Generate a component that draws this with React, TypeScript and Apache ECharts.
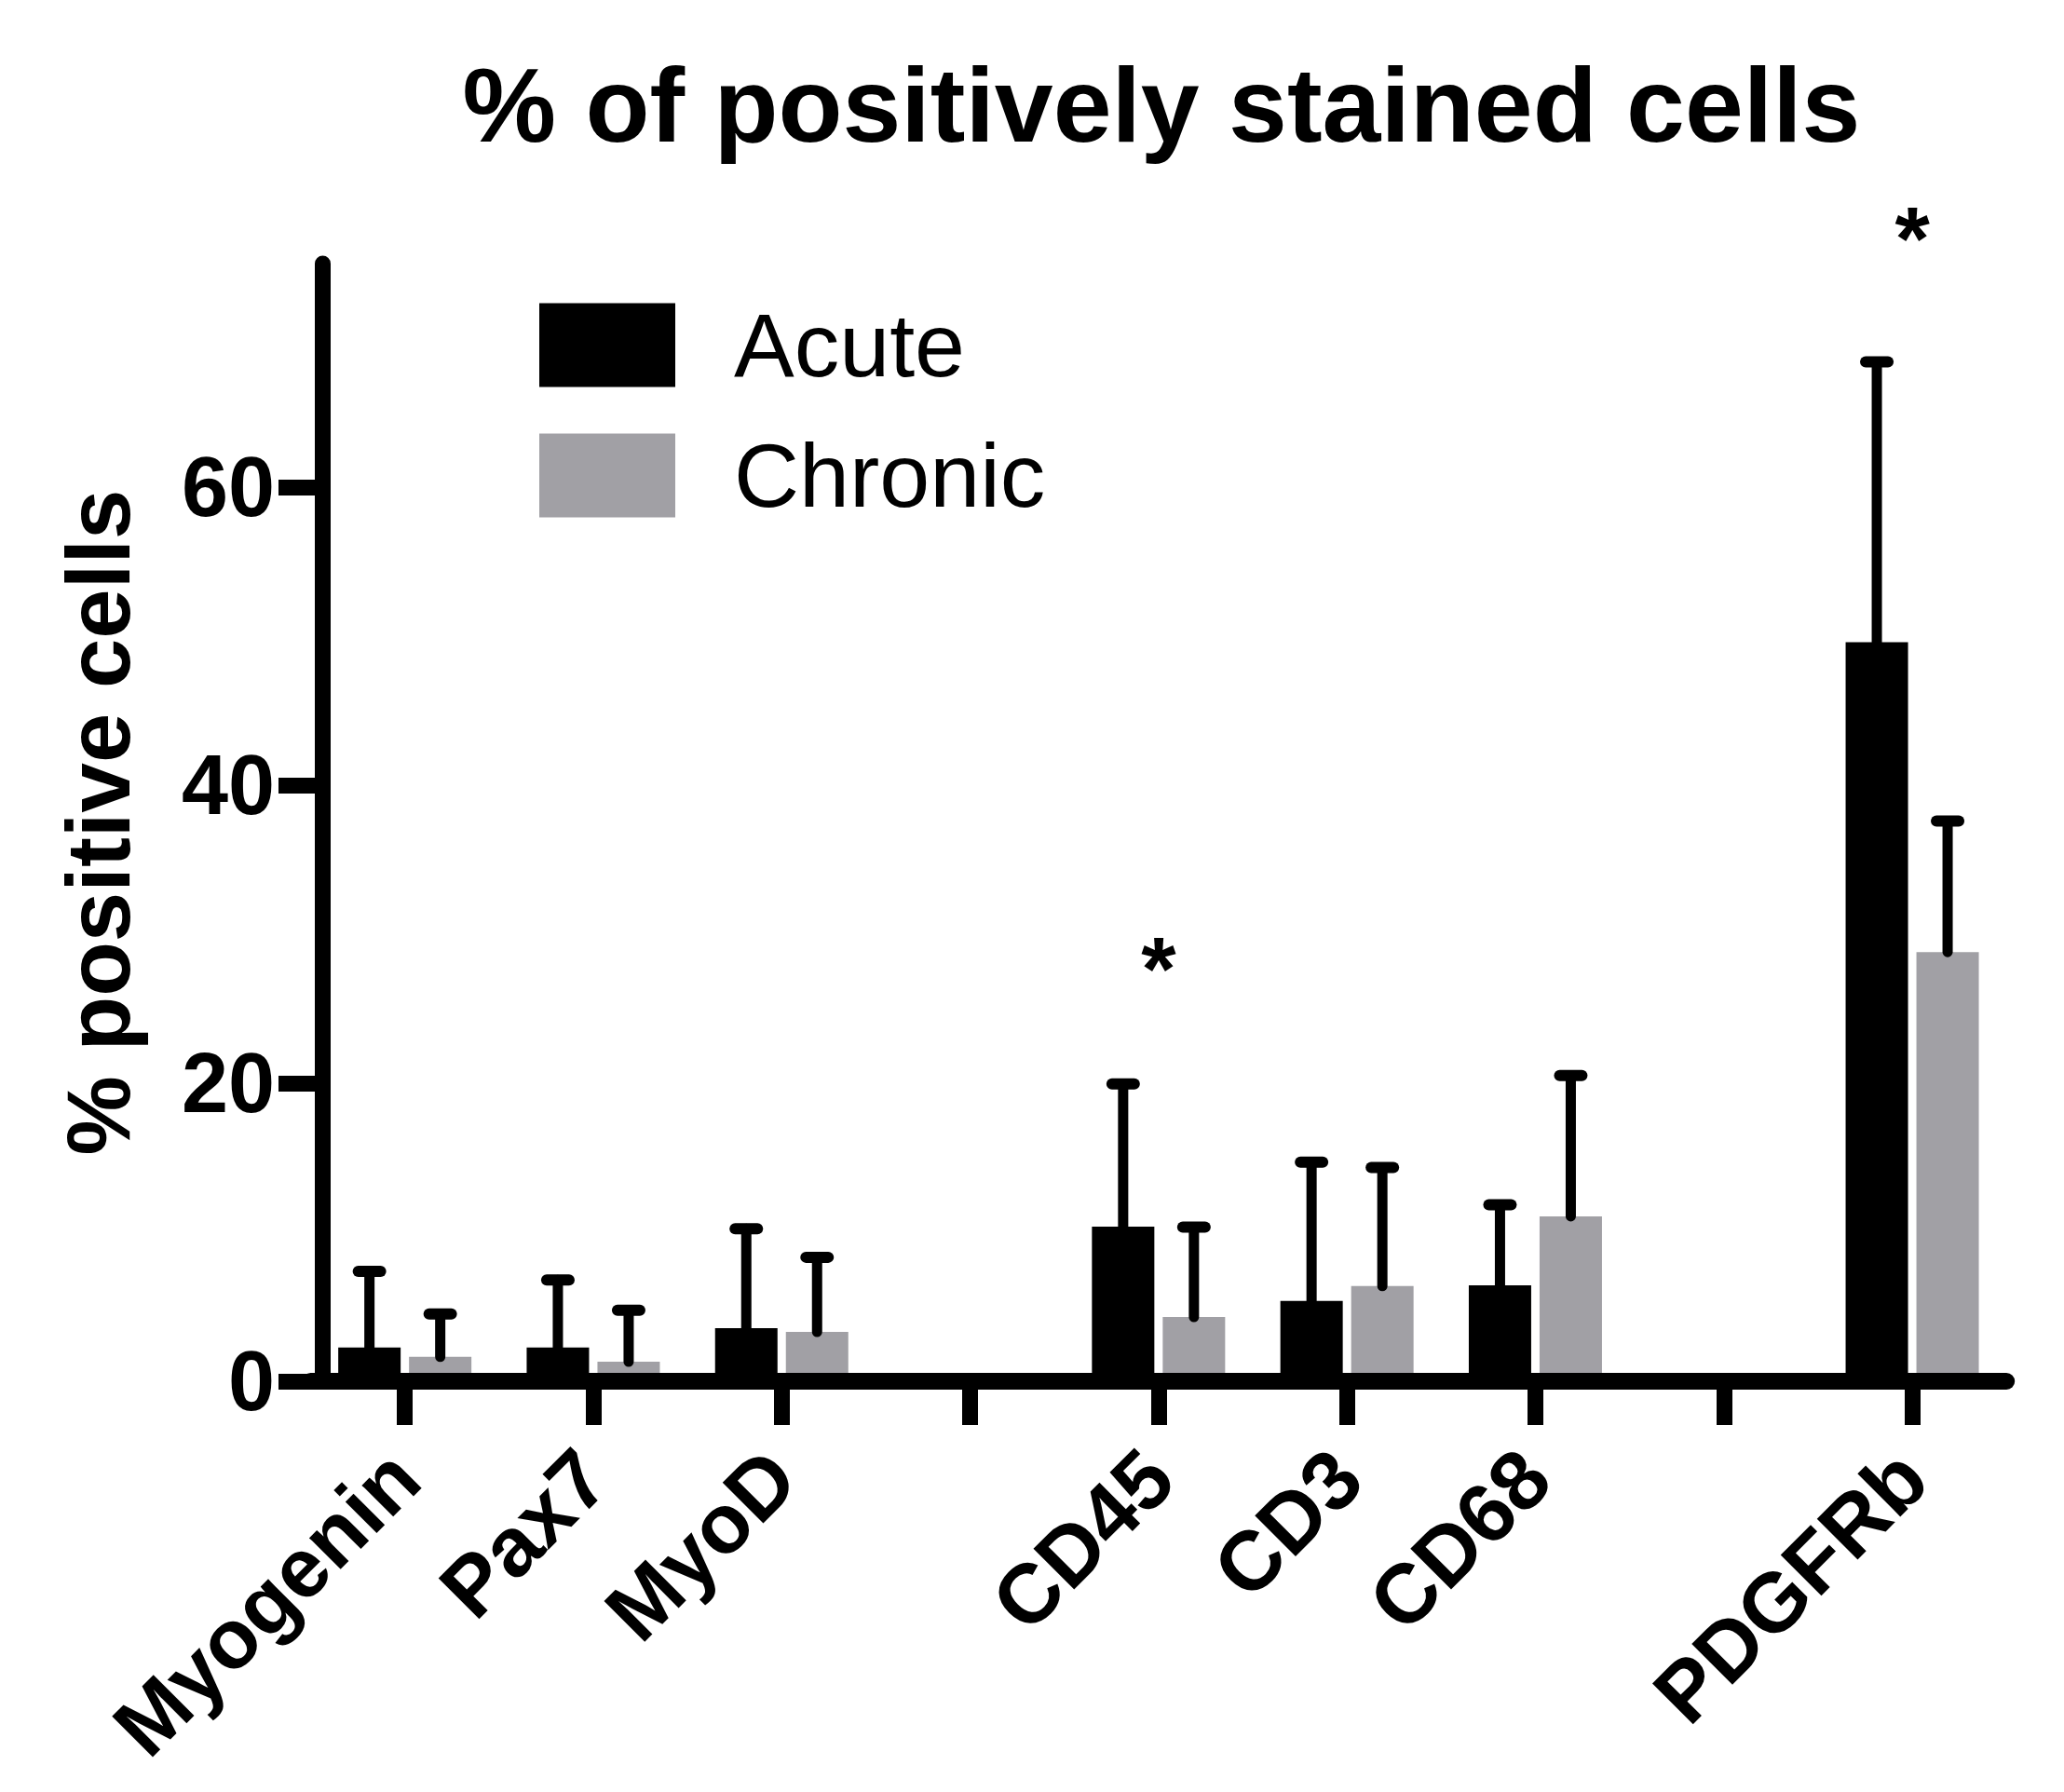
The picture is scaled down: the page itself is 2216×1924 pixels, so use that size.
import React, { useEffect, useRef } from "react";
import * as echarts from "echarts";

const categories = ["Myogenin", "Pax7", "MyoD", "", "CD45", "CD3", "CD68", "", "PDGFRb"];
const acuteMean = [2.27, 2.27, 3.56, null, 10.38, 5.39, 6.43, null, 49.6];
const acuteUpper = [7.37, 6.8, 10.24, null, 19.96, 14.71, 11.84, null, 68.4];
const chronicMean = [1.64, 1.31, 3.31, null, 4.31, 6.39, 11.07, null, 28.8];
const chronicUpper = [4.51, 4.76, 8.32, null, 10.34, 14.34, 20.52, null, 37.6];
const starCategories = [4, 8];
const starValues = [27.7, 76.7];
const yTicks = [0, 20, 40, 60];

const FONT = "'Liberation Sans', Arial, Helvetica, sans-serif";
const BAR_W = 67;
const BAR_GAP = 9;
const HALF = (BAR_W + BAR_GAP) / 2;
const GRAY = "#a1a0a5";

function errorData(mean: (number | null)[], upper: (number | null)[]) {
  const out: number[][] = [];
  mean.forEach((m, i) => {
    const u = upper[i];
    if (m != null && u != null) out.push([i, m, u]);
  });
  return out;
}

function errorRender(offset: number) {
  return (params: any, api: any) => {
    const p0 = api.coord([api.value(0), api.value(1)]);
    const p1 = api.coord([api.value(0), api.value(2)]);
    const x = p0[0] + offset;
    return {
      type: "group",
      children: [
        {
          type: "line",
          shape: { x1: x, y1: p0[1], x2: x, y2: p1[1] },
          style: { stroke: "#000", lineWidth: 11, lineCap: "round" },
        },
        {
          type: "line",
          shape: { x1: x - 12, y1: p1[1], x2: x + 12, y2: p1[1] },
          style: { stroke: "#000", lineWidth: 12, lineCap: "round" },
        },
      ],
    };
  };
}

export default function App() {
  const ref = useRef<HTMLDivElement>(null);
  useEffect(() => {
    if (!ref.current) return;
    const chart = echarts.init(ref.current, null, { renderer: "svg" });
    const option: any = {
      animation: false,
      backgroundColor: "#fff",
      grid: { left: 333.5, top: 283, width: 1820.7, bottom: 441, containLabel: false },
      graphic: [
        {
          type: "text",
          x: 1247,
          y: 113,
          style: {
            text: "% of positively stained cells",
            font: `bold 113px ${FONT}`,
            fill: "#000",
            textAlign: "center",
            textVerticalAlign: "middle",
          },
        },
      ],
      legend: {
        data: ["Acute", "Chronic"],
        orient: "vertical",
        left: 579,
        top: 322,
        padding: 0,
        itemWidth: 146,
        itemHeight: 90,
        itemGap: 43,
        icon: "rect",
        selectedMode: false,
        textStyle: {
          fontFamily: FONT,
          fontSize: 97,
          color: "#000",
          lineHeight: 78,
          padding: [12, 0, 0, 58],
        },
      },
      xAxis: {
        type: "category",
        data: categories,
        z: 10,
        axisLine: { show: true, lineStyle: { color: "#000", width: 18 } },
        axisTick: {
          show: true,
          alignWithLabel: true,
          interval: 0,
          length: 47,
          lineStyle: { color: "#000", width: 17 },
        },
        axisLabel: {
          interval: 0,
          rotate: 45,
          margin: 89,
          color: "#000",
          fontFamily: FONT,
          fontWeight: "bold",
          fontSize: 90,
        },
        splitLine: { show: false },
      },
      yAxis: {
        type: "value",
        min: 0,
        max: 75,
        interval: 20,
        offset: -12.5,
        z: 10,
        name: "% positive cells",
        nameLocation: "middle",
        nameRotate: 90,
        nameGap: 193,
        nameMoveOverlap: false,
        nameTextStyle: {
          fontFamily: FONT,
          fontWeight: "bold",
          fontSize: 96,
          color: "#000",
        },
        axisLine: { show: true, lineStyle: { color: "#000", width: 17 } },
        axisTick: {
          show: true,
          length: 47,
          customValues: yTicks,
          lineStyle: { color: "#000", width: 17 },
        },
        axisLabel: {
          customValues: yTicks,
          margin: 51,
          color: "#000",
          fontFamily: FONT,
          fontWeight: "bold",
          fontSize: 90,
          formatter: (v: number) => (yTicks.indexOf(v) >= 0 ? String(v) : ""),
        },
        splitLine: { show: false },
      },
      series: [
        {
          name: "Acute",
          type: "bar",
          data: acuteMean,
          barWidth: BAR_W,
          barGap: `${(BAR_GAP / BAR_W) * 100}%`,
          itemStyle: { color: "#000" },
          z: 2,
        },
        {
          name: "Chronic",
          type: "bar",
          data: chronicMean,
          barWidth: BAR_W,
          barGap: `${(BAR_GAP / BAR_W) * 100}%`,
          itemStyle: { color: GRAY },
          z: 2,
        },
        {
          type: "custom",
          name: "acuteErr",
          data: errorData(acuteMean, acuteUpper),
          renderItem: errorRender(-HALF),
          clip: false,
          z: 3,
          silent: true,
        },
        {
          type: "custom",
          name: "chronicErr",
          data: errorData(chronicMean, chronicUpper),
          renderItem: errorRender(HALF),
          clip: false,
          z: 3,
          silent: true,
        },
        {
          type: "custom",
          name: "stars",
          data: starCategories.map((c, i) => [c, starValues[i]]),
          clip: false,
          z: 4,
          silent: true,
          renderItem: (params: any, api: any) => {
            const p = api.coord([api.value(0), api.value(1)]);
            return {
              type: "text",
              x: p[0],
              y: p[1],
              style: {
                text: "*",
                font: `bold 96px ${FONT}`,
                fill: "#000",
                textAlign: "center",
                textVerticalAlign: "middle",
              },
            };
          },
        },
      ],
    };
    chart.setOption(option);
    return () => chart.dispose();
  }, []);
  return (
    <div
      ref={ref}
      style={{ position: "fixed", left: 0, top: 0, width: "2216px", height: "1924px", background: "#fff" }}
    />
  );
}
